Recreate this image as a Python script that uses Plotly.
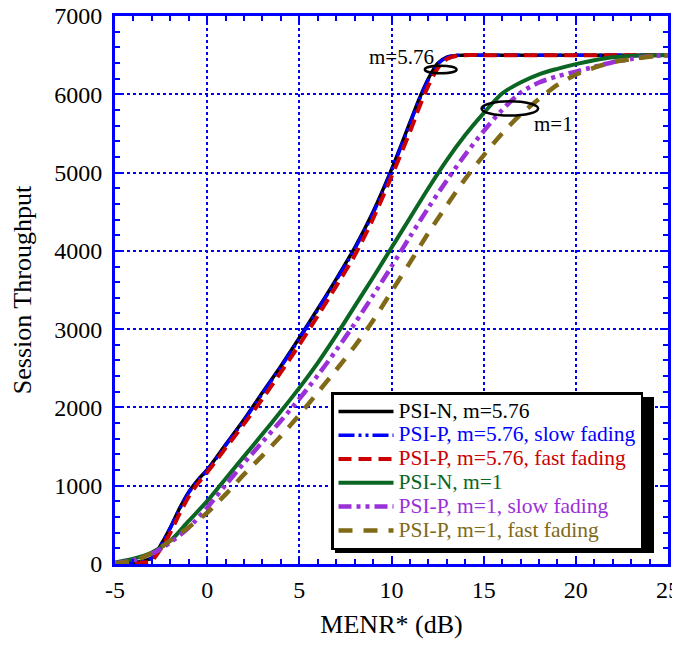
import plotly.graph_objects as go

# ---- data ----
x_m576 = [-5, -4, -3.5, -3, -2.5, -2, -1.5, -1, -0.5, 0, 1, 2, 3, 4, 5, 6, 7, 8, 9, 10,
          11, 11.5, 12, 12.5, 13, 13.5, 14, 15, 20, 25]
psin_m576 = [5, 15, 35, 80, 250, 465, 710, 920, 1075, 1205, 1525, 1845, 2190, 2530, 2890, 3260, 3640,
             4040, 4500, 5040, 5640, 5940, 6200, 6395, 6475, 6497, 6500, 6500, 6500, 6500]
psip_m576_slow = [5, 14, 33, 76, 245, 458, 702, 912, 1067, 1195, 1515, 1835, 2180, 2518, 2878, 3248,
                  3625, 4022, 4480, 5020, 5622, 5925, 6187, 6385, 6470, 6496, 6500, 6500, 6500, 6500]
psip_m576_fast = [0, 0, 15, 45, 200, 400, 640, 860, 1030, 1170, 1480, 1790, 2110, 2450, 2800, 3170,
                  3550, 3940, 4410, 4950, 5520, 5830, 6110, 6330, 6450, 6490, 6500, 6500, 6500, 6500]

x_m1 = [-5, -4, -3, -2, -1, 0, 1, 2, 3, 4, 5, 6, 7, 8, 9, 10, 11, 12, 13, 14, 15, 16, 17,
        18, 19, 20, 21, 22, 23, 24, 25]
psin_m1 = [20, 67, 147, 296, 550, 803, 1090, 1375, 1660, 1950, 2250, 2570, 2920, 3290, 3660, 4040,
           4420, 4800, 5160, 5480, 5760, 6010, 6150, 6255, 6325, 6385, 6435, 6472, 6490, 6498, 6500]
psip_m1_slow = [10, 50, 130, 275, 465, 720, 1010, 1290, 1560, 1830, 2110, 2410, 2730, 3070, 3430, 3800,
                4180, 4550, 4900, 5230, 5530, 5800, 6020, 6150, 6230, 6290, 6350, 6410, 6450, 6485, 6500]
psip_m1_fast = [5, 40, 140, 300, 470, 655, 890, 1145, 1385, 1635, 1905, 2190, 2480, 2780, 3110, 3480,
                3850, 4230, 4580, 4920, 5220, 5500, 5740, 5940, 6120, 6250, 6340, 6410, 6450, 6480, 6500]

names = ["PSI-N, m=5.76", "PSI-P, m=5.76, slow fading", "PSI-P, m=5.76, fast fading",
         "PSI-N, m=1", "PSI-P, m=1, slow fading", "PSI-P, m=1, fast fading"]

x_ticks = [-5, 0, 5, 10, 15, 20, 25]
y_ticks = [0, 1000, 2000, 3000, 4000, 5000, 6000, 7000]

FONT = "Liberation Serif"

series = [
    (x_m576, psin_m576, "#000000", "solid", 3.5),
    (x_m576, psip_m576_slow, "#0000FF", "16px,4px,3px,4px,3px,4px", 3.5),
    (x_m576, psip_m576_fast, "#CC0000", "13px,7px", 4),
    (x_m1, psin_m1, "#0B6623", "solid", 4),
    (x_m1, psip_m1_slow, "#9B30D9", "13px,5px,4px,5px,4px,5px", 4.5),
    (x_m1, psip_m1_fast, "#806A17", "14px,11px", 4.5),
]

fig = go.Figure()
for (xs, ys, col, dash, w), nm in zip(series, names):
    fig.add_trace(go.Scatter(
        x=xs, y=ys, mode="lines",
        line=dict(color=col, dash=dash, width=w, shape="spline", smoothing=0.8),
        name=f'<span style="color:{col};font-size:21.5px">{nm}</span>',
    ))

axis_common = dict(
    showline=True, linecolor="#0000FF", linewidth=3, mirror="ticks",
    ticks="inside", ticklen=8, tickwidth=2, tickcolor="#0000FF",
    showgrid=True, gridcolor="#0000FF", griddash="dot", gridwidth=1.5,
    zeroline=False, automargin=False, ticklabeloverflow="allow",
    tickfont=dict(family=FONT, size=24, color="black"),
)

fig.update_xaxes(
    range=[-5, 25], tickvals=x_ticks, ticktext=[str(v) for v in x_ticks],
    minor=dict(dtick=1, ticks="inside", ticklen=5, tickwidth=2, tickcolor="#0000FF", showgrid=False),
    title=dict(text="MENR* (dB)", font=dict(family=FONT, size=26, color="black"), standoff=14),
    ticklabelstandoff=2,
    **axis_common,
)
fig.update_yaxes(
    range=[0, 7000], tickvals=y_ticks, ticktext=[str(v) for v in y_ticks],
    minor=dict(dtick=200, ticks="inside", ticklen=5, tickwidth=2, tickcolor="#0000FF", showgrid=False),
    title=dict(text="Session Throughput", font=dict(family=FONT, size=26, color="black"), standoff=16),
    ticklabelstandoff=5,
    **axis_common,
)

# annotation ellipses and labels
fig.add_shape(type="circle", xref="x", yref="y", x0=11.81, x1=13.53, y0=6269, y1=6365,
              line=dict(color="black", width=2.5))
fig.add_shape(type="circle", xref="x", yref="y", x0=14.885, x1=17.955, y0=5728, y1=5910,
              line=dict(color="black", width=2.5))
fig.add_annotation(x=12.44, y=6475, xref="x", yref="y", text="m=5.76", showarrow=False,
                   xanchor="right", yanchor="middle", font=dict(family=FONT, size=21, color="black"))
fig.add_annotation(x=17.6, y=5615, xref="x", yref="y", text="m=1", showarrow=False,
                   xanchor="left", yanchor="middle", font=dict(family=FONT, size=21, color="black"))

PH = 548.0  # plot height in px
# legend drop shadow (paper coordinates)
fig.add_shape(type="rect", xref="paper", yref="paper", layer="above",
              x0=(335 - 115) / 553, x1=(654 - 115) / 553,
              y0=(564 - 553) / PH, y1=(564 - 397) / PH,
              fillcolor="black", line=dict(width=0))

fig.update_layout(
    width=672, height=637,
    margin=dict(l=107, r=12, t=8, b=81, pad=0),
    paper_bgcolor="white", plot_bgcolor="white",
    font=dict(family=FONT, size=16, color="black"),
    legend=dict(
        x=(331 - 115) / 553, y=(564 - 392) / PH, xanchor="left", yanchor="top",
        bgcolor="white", bordercolor="black", borderwidth=2.5,
        font=dict(family=FONT, size=16, color="black"),
        tracegroupgap=0, itemwidth=55,
    ),
    showlegend=True,
)

fig.write_html("out.html")
